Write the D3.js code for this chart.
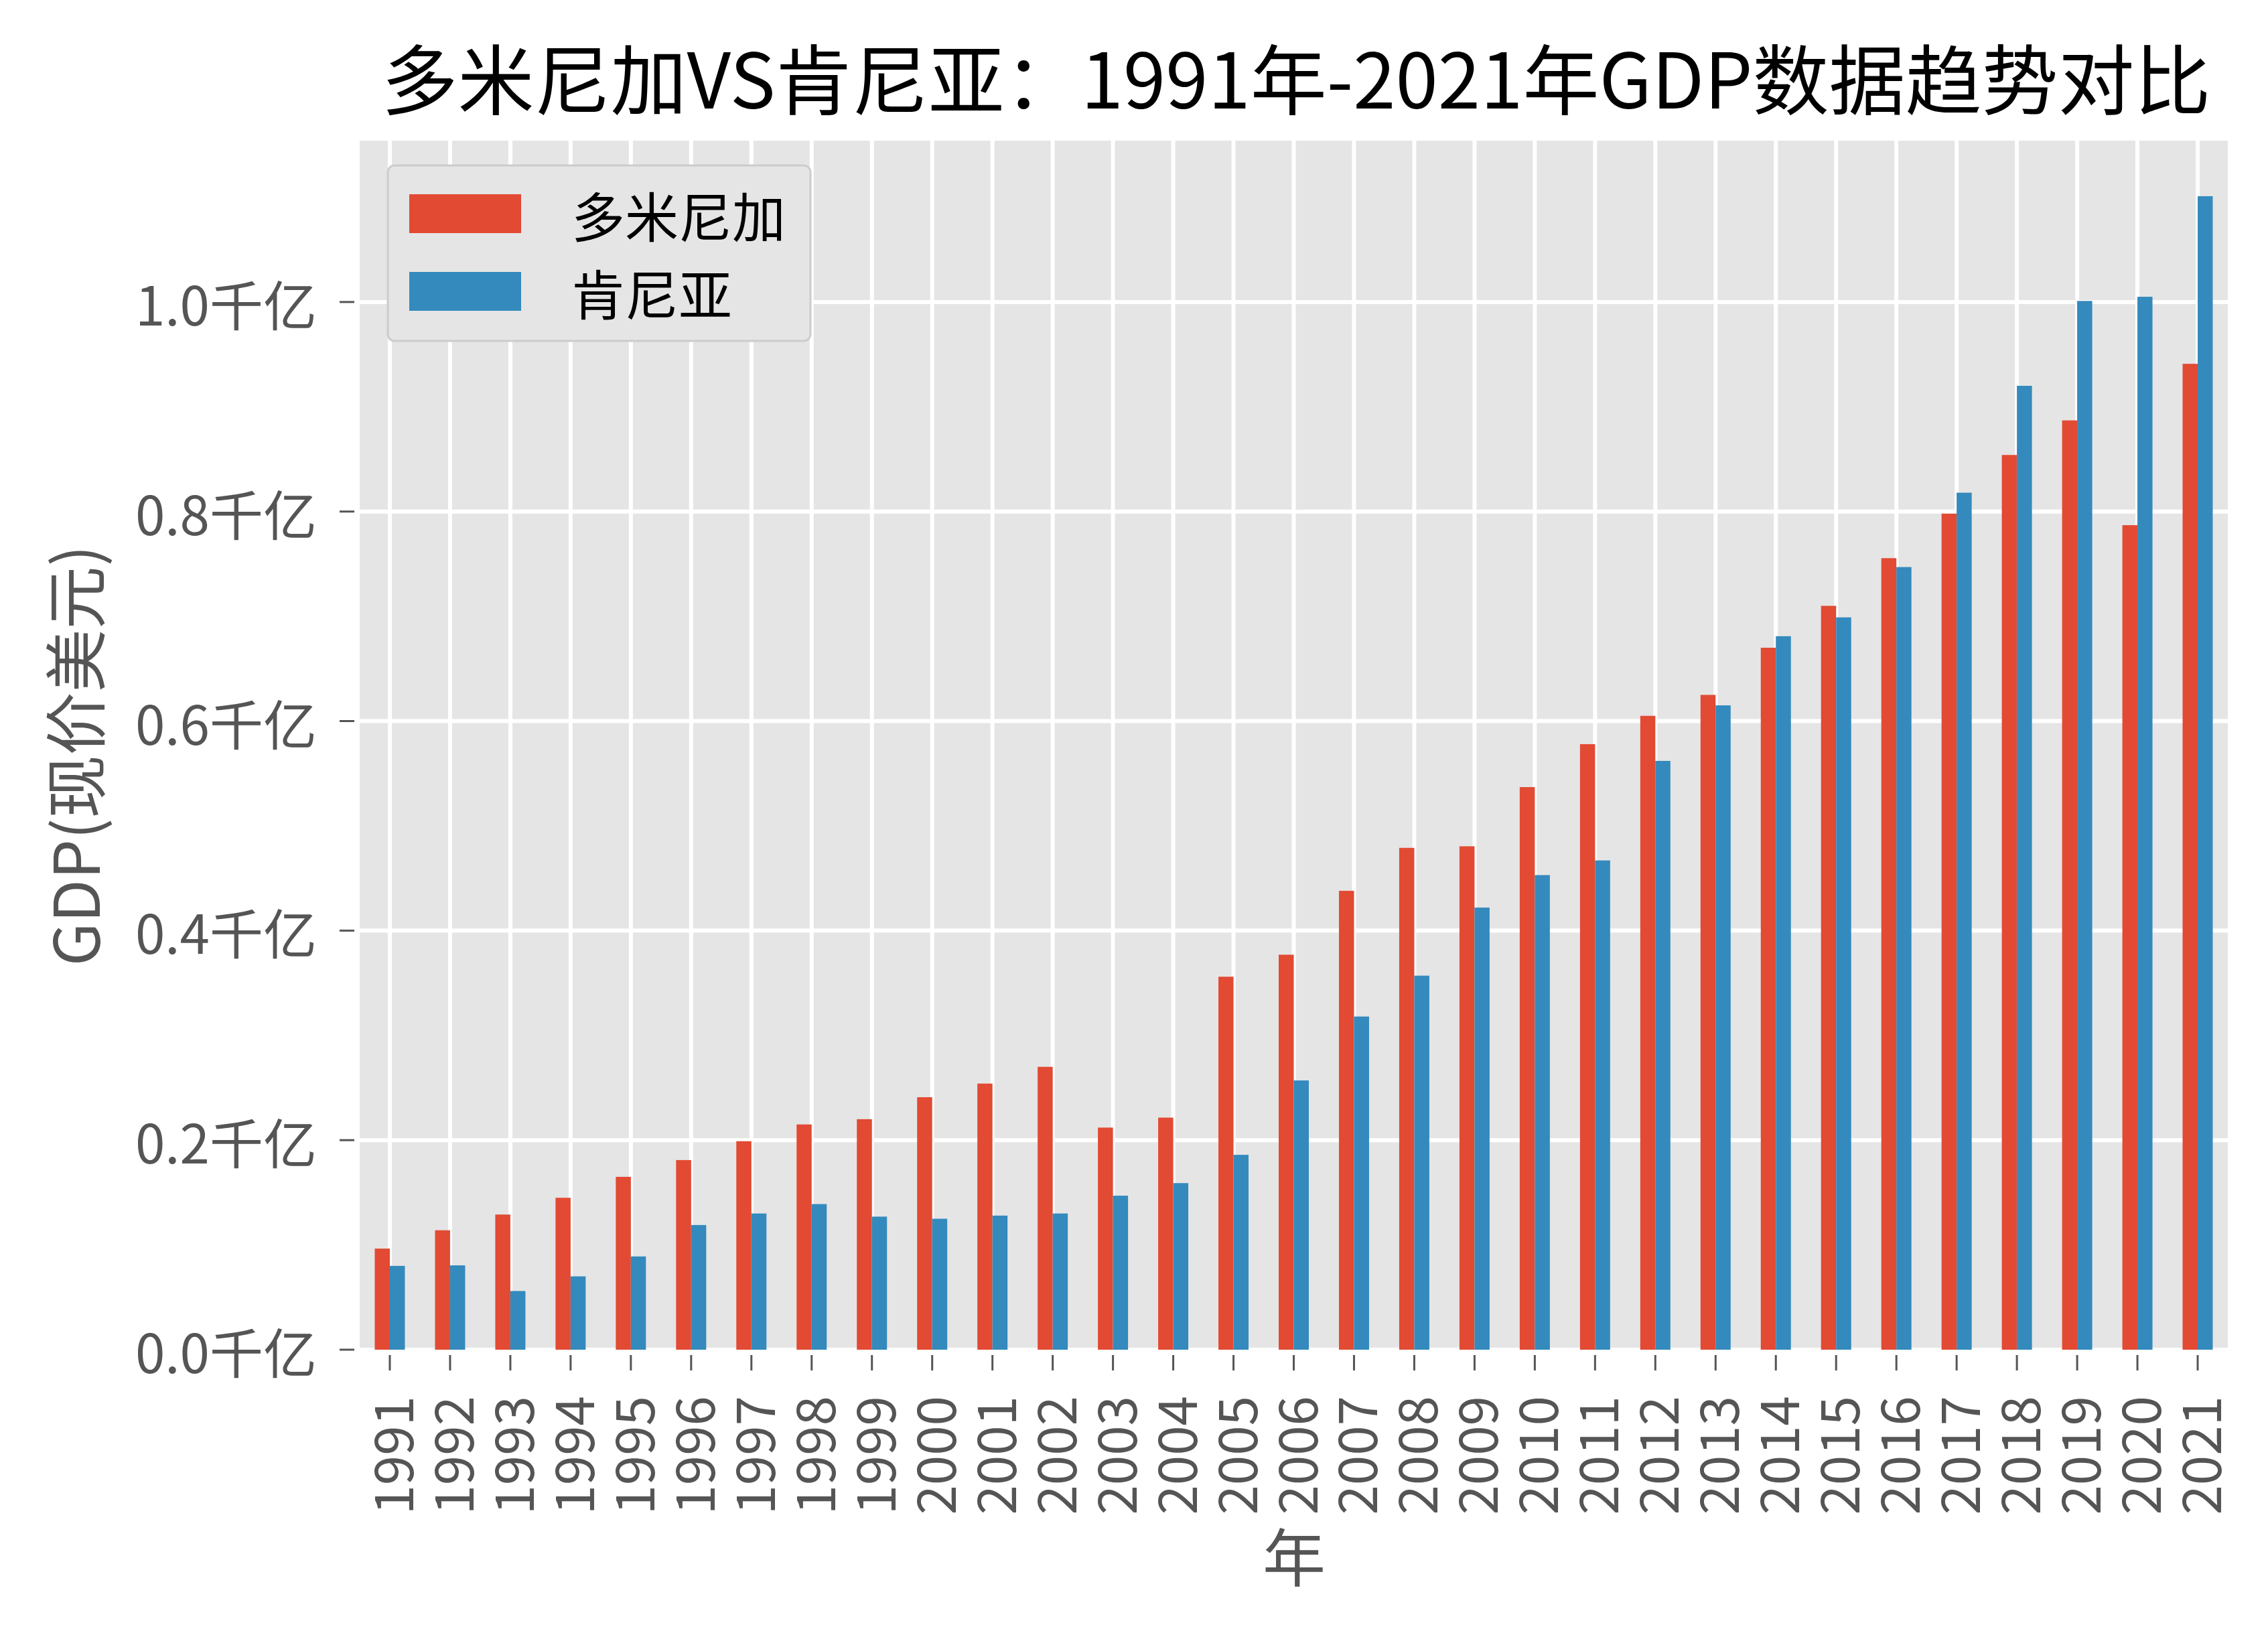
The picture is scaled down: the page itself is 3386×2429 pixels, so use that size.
<!DOCTYPE html>
<html>
<head>
<meta charset="utf-8">
<script src="https://cdn.jsdelivr.net/npm/d3@7"></script>
<style>
    body { margin: 0; background: #ffffff; }
    text { font-family: "Noto Sans CJK SC", "Noto Sans", sans-serif; }
</style>
</head>
<body>
<div id="bar-chart"></div>
<script>

// years on the x axis
var years = ["1991","1992","1993","1994","1995","1996","1997","1998","1999","2000",
             "2001","2002","2003","2004","2005","2006","2007","2008","2009","2010",
             "2011","2012","2013","2014","2015","2016","2017","2018","2019","2020","2021"];

// GDP, in 千亿 (current US$)
var dominica = [0.0965,0.114,0.129,0.145,0.165,0.181,0.199,0.215,0.220,0.241,
                0.254,0.270,0.212,0.2215,0.356,0.377,0.438,0.479,0.4805,0.537,
                0.578,0.605,0.625,0.670,0.710,0.7555,0.798,0.854,0.887,0.787,0.941];

var kenya = [0.080,0.0805,0.056,0.070,0.089,0.119,0.130,0.139,0.127,0.125,
             0.128,0.130,0.147,0.159,0.186,0.257,0.318,0.357,0.422,0.453,
             0.467,0.562,0.615,0.681,0.699,0.747,0.818,0.920,1.001,1.005,1.101];

var seriesNames = ["多米尼加", "肯尼亚"];
var seriesColors = ["#E24A33", "#348ABD"];

var yTicks = [0, 0.2, 0.4, 0.6, 0.8, 1.0];
var yTickLabels = ["0.0千亿", "0.2千亿", "0.4千亿", "0.6千亿", "0.8千亿", "1.0千亿"];


function BarChart() {
    var self = this;
    self.init();
};

/**
 * Sets up svg, scales and the gray plotting area
 */
BarChart.prototype.init = function(){
    var self = this;

    self.width = 3386;
    self.height = 2429;
    self.plot = {left: 537, right: 3326, top: 210, bottom: 2015};

    self.svg = d3.select("#bar-chart").append("svg")
        .attr("width", self.width)
        .attr("height", self.height);

    self.svg.append("rect")
        .attr("width", self.width)
        .attr("height", self.height)
        .attr("fill", "#ffffff");

    self.x = d3.scaleBand()
        .domain(years)
        .range([self.plot.left, self.plot.right])
        .padding(0);

    self.y = d3.scaleLinear()
        .domain([0, 1.154])
        .range([self.plot.bottom, self.plot.top]);

    //gray background
    self.svg.append("rect")
        .attr("x", self.plot.left)
        .attr("y", self.plot.top)
        .attr("width", self.plot.right - self.plot.left)
        .attr("height", self.plot.bottom - self.plot.top)
        .attr("fill", "#E5E5E5");
};

/**
 * Grid, bars, axes, labels and legend
 */
BarChart.prototype.update = function(){
    var self = this;
    var x = self.x, y = self.y;
    var bw = x.bandwidth() * 0.25;

    //white grid lines
    self.svg.append("g").selectAll("line.vgrid")
        .data(years).enter().append("line")
        .attr("x1", d => x(d) + x.bandwidth() / 2)
        .attr("x2", d => x(d) + x.bandwidth() / 2)
        .attr("y1", self.plot.top)
        .attr("y2", self.plot.bottom)
        .attr("stroke", "#ffffff")
        .attr("stroke-width", 6);

    self.svg.append("g").selectAll("line.hgrid")
        .data(yTicks).enter().append("line")
        .attr("x1", self.plot.left)
        .attr("x2", self.plot.right)
        .attr("y1", d => y(d))
        .attr("y2", d => y(d))
        .attr("stroke", "#ffffff")
        .attr("stroke-width", 6);

    //bars
    [dominica, kenya].forEach(function(values, k){
        self.svg.append("g").selectAll("rect")
            .data(values).enter().append("rect")
            .attr("x", (d, i) => x(years[i]) + x.bandwidth() / 2 - bw + k * bw)
            .attr("y", d => y(d))
            .attr("width", bw)
            .attr("height", d => y(0) - y(d))
            .attr("fill", seriesColors[k]);
    });

    //y axis ticks and labels
    var yAxis = self.svg.append("g");
    yAxis.selectAll("line")
        .data(yTicks).enter().append("line")
        .attr("x1", self.plot.left - 30)
        .attr("x2", self.plot.left - 8)
        .attr("y1", d => y(d))
        .attr("y2", d => y(d))
        .attr("stroke", "#555555")
        .attr("stroke-width", 3);
    yAxis.selectAll("text")
        .data(yTicks).enter().append("text")
        .attr("x", 473)
        .attr("y", d => y(d))
        .attr("text-anchor", "end")
        .attr("dominant-baseline", "central")
        .attr("font-size", 80)
        .attr("fill", "#555555")
        .text((d, i) => yTickLabels[i]);

    //x axis ticks and labels
    var xAxis = self.svg.append("g");
    xAxis.selectAll("line")
        .data(years).enter().append("line")
        .attr("x1", d => x(d) + x.bandwidth() / 2)
        .attr("x2", d => x(d) + x.bandwidth() / 2)
        .attr("y1", self.plot.bottom + 8)
        .attr("y2", self.plot.bottom + 31)
        .attr("stroke", "#555555")
        .attr("stroke-width", 3);
    xAxis.selectAll("text")
        .data(years).enter().append("text")
        .attr("transform", d => "translate(" + (x(d) + x.bandwidth() / 2) + "," + 2084 + ") rotate(-90)")
        .attr("text-anchor", "end")
        .attr("dominant-baseline", "central")
        .attr("font-size", 80)
        .attr("fill", "#555555")
        .text(d => d);

    //axis titles
    self.svg.append("text")
        .attr("transform", "translate(108,1128) rotate(-90)")
        .attr("text-anchor", "middle")
        .attr("dominant-baseline", "central")
        .attr("font-size", 94)
        .attr("fill", "#555555")
        .text("GDP(现价美元)");

    self.svg.append("text")
        .attr("x", 1932)
        .attr("y", 2320)
        .attr("text-anchor", "middle")
        .attr("dominant-baseline", "central")
        .attr("font-size", 94)
        .attr("fill", "#555555")
        .text("年");

    //title
    self.svg.append("text")
        .attr("x", 1935)
        .attr("y", 112)
        .attr("text-anchor", "middle")
        .attr("dominant-baseline", "central")
        .attr("font-size", 114)
        .attr("fill", "#000000")
        .text("多米尼加VS肯尼亚：1991年-2021年GDP数据趋势对比");

    //legend
    var legend = self.svg.append("g");
    legend.append("rect")
        .attr("x", 579)
        .attr("y", 247)
        .attr("width", 631)
        .attr("height", 262)
        .attr("rx", 10)
        .attr("fill", "#E5E5E5")
        .attr("stroke", "#CCCCCC")
        .attr("stroke-width", 3);
    seriesNames.forEach(function(name, k){
        legend.append("rect")
            .attr("x", 611)
            .attr("y", 290 + k * 116)
            .attr("width", 167)
            .attr("height", 58)
            .attr("fill", seriesColors[k]);
        legend.append("text")
            .attr("x", 853)
            .attr("y", 319 + k * 116)
            .attr("dominant-baseline", "central")
            .attr("font-size", 80)
            .attr("fill", "#000000")
            .text(name);
    });
};

var chart = new BarChart();
chart.update();
</script>
</body>
</html>
